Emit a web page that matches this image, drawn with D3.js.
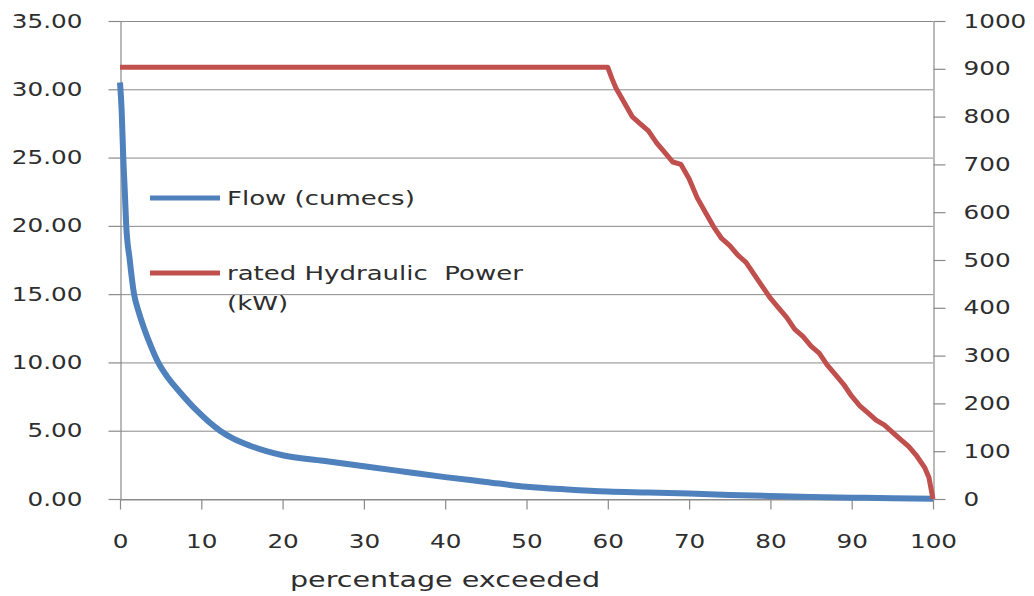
<!DOCTYPE html>
<html><head><meta charset="utf-8">
<script src="https://cdn.jsdelivr.net/npm/d3@7"></script>
<style>html,body{margin:0;padding:0;background:#fff;}svg{display:block;}</style>
</head><body>
<svg id="chart" width="1034" height="596"></svg>
<script>
// ---- data ----
const flowPct = [0,0.2,0.4,0.6,0.75,1.2,1.7,2.3,2.9,3.8,4.7,6,7.4,9.4,12.3,14,16,18,20,25,30,35,40,45,50,55,60,65,70,75,80,85,90,95,100];
const flowVal = [30.5,28.5,25,22.4,20.2,17.5,15.1,13.7,12.6,11.2,10.0,8.8,7.8,6.5,5.0,4.4,3.9,3.5,3.2,2.8,2.4,2.0,1.6,1.25,0.9,0.7,0.55,0.48,0.4,0.3,0.22,0.15,0.1,0.05,0.02];
const powerPct = [0,60,60.5,61,62,63,64,65,66,67,68,69,70,71,72,73,74,75,76,77,78,79,80,81,82,83,84,85,86,87,88,89,90,91,92,93,94,95,96,97,98,99,99.5,100];
const powerVal = [903,903,880,860,830,800,785,770,745,725,705,700,670,630,600,570,545,530,510,495,470,445,420,400,380,355,340,320,305,280,260,240,215,195,180,165,155,140,125,110,90,65,45,0];
const xTicks = [0,10,20,30,40,50,60,70,80,90,100];
const leftTicks = [0,5,10,15,20,25,30,35];
const rightTicks = [0,100,200,300,400,500,600,700,800,900,1000];
const legendLabels = ["Flow (cumecs)", ["rated Hydraulic  Power", "(kW)"]];
const xTitle = "percentage exceeded";

// ---- layout ----
const SX = 1.3;
const svg = d3.select("#chart");
const x = d3.scaleLinear().domain([0,100]).range([120,933]);
const yL = d3.scaleLinear().domain([0,35]).range([499,21]);
const yR = d3.scaleLinear().domain([0,1000]).range([499,21]);
const gridC = "#8a8a8a", txtC = "#2e2e2e";
const blue = "#4f81bd", red = "#c0504d";
const font = "DejaVu Sans, sans-serif";

function stretchText(sel){
  sel.each(function(){
    const t = d3.select(this);
    const xv = +(t.attr("x")||0);
    t.attr("x", xv/SX).attr("transform", `scale(${SX},1)`);
  });
}

// gridlines
svg.append("g").selectAll("line").data(leftTicks).join("line")
  .attr("x1",120).attr("x2",933).attr("y1",d=>yL(d)+0.5).attr("y2",d=>yL(d)+0.5)
  .attr("stroke",gridC).attr("stroke-width",1);

// left axis
const gL = svg.append("g").attr("transform","translate(120.5,0)")
  .call(d3.axisLeft(yL).tickValues(leftTicks).tickSize(12).tickSizeOuter(0).tickPadding(26).tickFormat(d3.format(".2f")));
// right axis
const gR = svg.append("g").attr("transform","translate(933.5,0)")
  .call(d3.axisRight(yR).tickValues(rightTicks).tickSize(12).tickSizeOuter(0).tickPadding(18).tickFormat(d3.format("d")));
// bottom axis
const gB = svg.append("g").attr("transform","translate(0,499.5)")
  .call(d3.axisBottom(x).tickValues(xTicks).tickSize(10).tickSizeOuter(0).tickPadding(25).tickFormat(d3.format("d")));

[gL,gR,gB].forEach(g=>{
  g.selectAll("path.domain").attr("stroke",gridC).attr("stroke-width",1.2);
  g.selectAll(".tick line").attr("stroke",gridC).attr("stroke-width",1.2);
  g.selectAll(".tick text").attr("fill",txtC).style("font-family",font).style("font-size","19px");
  stretchText(g.selectAll(".tick text"));
});

// lines
const lineFlow = d3.line().x((d,i)=>x(flowPct[i])).y(d=>yL(d)).curve(d3.curveMonotoneX);
const linePower = d3.line().x((d,i)=>x(powerPct[i])).y(d=>yR(d));
svg.append("path").datum(flowVal).attr("d",lineFlow).attr("fill","none")
  .attr("stroke",blue).attr("stroke-width",6).attr("stroke-linejoin","round");
svg.append("path").datum(powerVal).attr("d",linePower).attr("fill","none")
  .attr("stroke",red).attr("stroke-width",5).attr("stroke-linejoin","round");

// legend
const leg = svg.append("g");
const legY = [198, 273];
const legColors = [blue, red];
legY.forEach((yy,i)=>{
  leg.append("line").attr("x1",150).attr("x2",220).attr("y1",yy).attr("y2",yy)
    .attr("stroke",legColors[i]).attr("stroke-width",5);
  const lines = Array.isArray(legendLabels[i]) ? legendLabels[i] : [legendLabels[i]];
  lines.forEach((s,j)=>{
    const t = leg.append("text").attr("x",227).attr("y",yy+7+j*30).text(s)
      .attr("fill",txtC).style("font-family",font).style("font-size","20px").style("white-space","pre");
    stretchText(t);
  });
});

// x title
const tt = svg.append("text").attr("x",445).attr("y",587).attr("text-anchor","middle")
  .text(xTitle).attr("fill",txtC).style("font-family",font).style("font-size","22px");
stretchText(tt);
</script>
</body></html>
